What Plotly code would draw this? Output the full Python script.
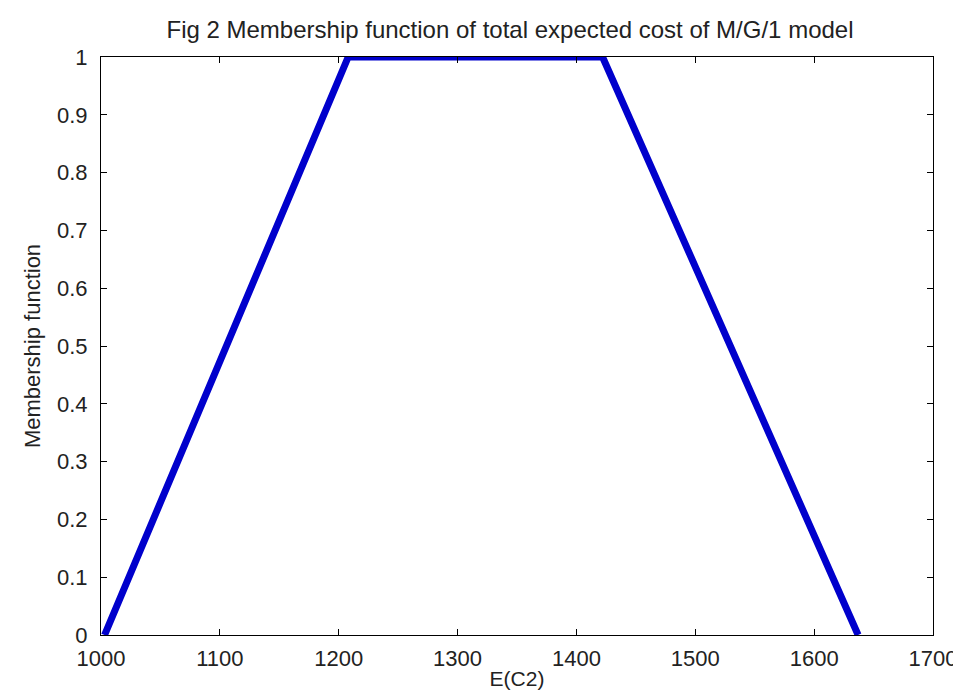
import plotly.graph_objects as go

x_vals = [1003, 1208, 1422, 1637]
y_vals = [0, 1, 1, 0]
x_ticks = [1000, 1100, 1200, 1300, 1400, 1500, 1600, 1700]
y_ticks = [0, 0.1, 0.2, 0.3, 0.4, 0.5, 0.6, 0.7, 0.8, 0.9, 1]

fig = go.Figure()
fig.add_trace(go.Scatter(x=x_vals, y=y_vals, mode="lines",
                         line=dict(color="#0000CC", width=7), showlegend=False))

font = dict(family="Liberation Sans, Arial, sans-serif", size=22, color="#222222")
fig.update_layout(
    width=961, height=690,
    margin=dict(l=93, r=28, t=49, b=61),
    paper_bgcolor="white", plot_bgcolor="white",
    font=font,
    title=dict(text="Fig 2 Membership function of total expected cost of M/G/1 model",
               x=502/961, xref="container", xanchor="center", y=1 - 22/690, yanchor="middle",
               font=dict(size=24)),
    xaxis=dict(range=[1000, 1700], tickvals=x_ticks, ticktext=[str(t) for t in x_ticks],
               ticks="inside", ticklen=6, tickcolor="black", showgrid=False, zeroline=False,
               showline=True, linecolor="black", linewidth=1, mirror="ticks",
               ticklabelstandoff=4,
               title=dict(text="E(C2)", standoff=0, font=dict(size=21)), tickfont=dict(size=22)),
    yaxis=dict(range=[0, 1], tickvals=y_ticks, ticktext=[("%g" % t) for t in y_ticks],
               ticks="inside", ticklen=6, tickcolor="black", showgrid=False, zeroline=False,
               showline=True, linecolor="black", linewidth=1, mirror="ticks",
               ticklabelstandoff=8,
               title=dict(text="Membership function", standoff=10, font=dict(size=22)),
               tickfont=dict(size=22)),
)
fig.write_html("out.html")
